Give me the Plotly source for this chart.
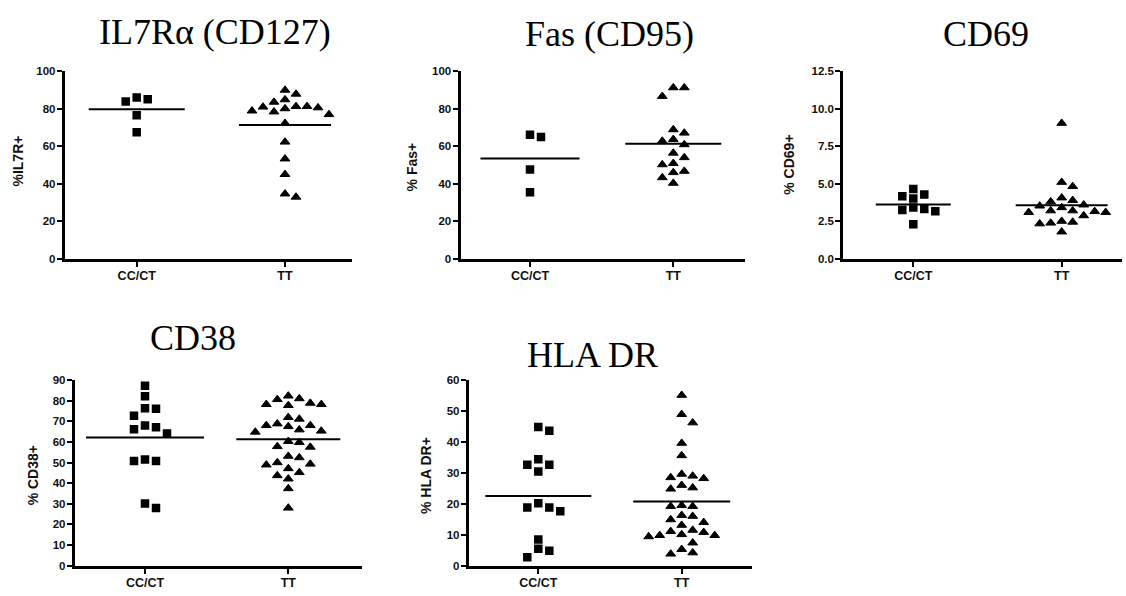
import numpy as np
import plotly.graph_objects as go

W, H = 1126, 596

categories = ["CC/CT", "TT"]

titles = ["IL7Rα (CD127)", "Fas (CD95)", "CD69", "CD38", "HLA DR"]
y_titles = ["%IL7R+", "% Fas+", "% CD69+", "% CD38+", "% HLA DR+"]

il7r_cc = [86.0, 83.9, 85.1, 76.5, 67.5]
il7r_tt = [81.0, 80.6, 83.6, 78.9, 87.9, 84.9, 90.0, 78.4, 80.1, 77.0, 81.3, 81.3,
           72.3, 62.3, 53.3, 45.0, 32.9, 34.6]

fas_cc = [64.9, 66.1, 47.6, 35.5]
fas_tt = [91.3, 91.3, 86.7, 67.1, 68.9, 62.8, 60.9, 63.7, 54.0, 56.4, 50.2, 50.9,
          46.0, 46.7, 43.3, 40.3]

cd69_cc = [3.42, 4.28, 3.24, 4.02, 3.16, 4.17, 3.31, 4.65, 2.29]
cd69_tt = [9.04, 5.10, 4.82, 3.89, 3.59, 3.80, 4.06, 3.52, 3.20, 3.20, 3.09, 2.87,
           3.09, 3.15, 3.41, 2.50, 2.33, 2.38, 2.44, 1.79]

cd38_cc = [87.2, 82.1, 76.1, 76.3, 72.7, 67.1, 67.9, 66.1, 64.1, 50.7, 50.7, 51.5,
           28.0, 30.2]
cd38_tt = [81.0, 78.8, 78.2, 77.7, 78.2, 80.6, 82.3, 71.1, 71.9, 68.0, 67.5, 65.3,
           64.8, 65.9, 68.0, 68.8, 59.8, 57.5, 57.8, 60.3, 53.1, 50.0, 49.3, 52.4,
           48.9, 47.1, 45.2, 42.1, 43.7, 37.4, 28.0]

hla_cc = [44.8, 43.6, 32.6, 32.6, 34.4, 30.4, 18.8, 17.6, 18.8, 20.2, 8.5, 5.5,
          4.8, 2.7]
hla_tt = [55.1, 48.9, 46.2, 39.6, 35.6, 29.6, 28.5, 28.2, 29.0, 26.0, 24.8, 25.2,
          19.2, 19.2, 19.5, 16.3, 16.0, 14.9, 13.1, 14.0, 11.1, 11.5, 10.1, 9.8,
          9.4, 9.8, 10.8, 7.4, 5.3, 3.8, 4.2]

y_max = [100, 100, 12.5, 90, 60]
y_dtick = [20, 20, 2.5, 10, 10]
y_fmt = ["d", "d", ".1f", "d", "d"]

groups = [(il7r_cc, il7r_tt), (fas_cc, fas_tt), (cd69_cc, cd69_tt),
          (cd38_cc, cd38_tt), (hla_cc, hla_tt)]

# ---- layout geometry (pixels) ----
# (y-axis x, x-axis end, top, bottom, category centre 0, category centre 1)
boxes = [
    (63.3, 351.7, 66.7, 259.3, 136.7, 285.0),
    (459.0, 745.0, 66.7, 259.3, 530.0, 673.3),
    (841.7, 1122.0, 66.7, 259.3, 913.3, 1061.7),
    (73.3, 361.7, 381.7, 572.7, 145.0, 288.3),
    (467.3, 751.7, 381.7, 572.7, 538.3, 681.7),
]
title_pos = [(215, 27), (609, 28.5), (986, 28.5), (193, 339), (592, 356)]
ytitle_pos = [(17.7, 158), (411.7, 164), (789, 162), (33, 479), (426.7, 479)]
mean_hw = [(48, 46), (49.5, 48), (37.5, 46), (59, 52), (53, 48.5)]
symbols = ["square", "triangle-up"]
msize = [8.5, 8.5]
mline = [0, 1]
LW = 3  # axis line width (plotly draws it half outside the plot area)


def swarm(values, xppu, yppu, dx=11.0, dy=9.0, step=5.5):
    vals = np.asarray(values, dtype=float)
    order = np.argsort(-vals, kind="stable")
    placed = []
    offs = np.zeros(len(vals))
    cands = [0]
    for m in range(1, 60):
        cands += [m, -m]
    for i in order:
        ypx = vals[i] * yppu
        xo = 0.0
        for m in cands:
            xo = m * step
            if all(abs(xo - px) >= dx or abs(ypx - py) >= dy for px, py in placed):
                break
        placed.append((xo, ypx))
        offs[i] = xo / xppu
    return offs


fig = go.Figure()
annotations = []
for i, (box, grp) in enumerate(zip(boxes, groups)):
    x0, x1, yt, yb, c0, c1 = box
    x0p = x0 + LW / 2
    ybp = yb - LW / 2
    n = "" if i == 0 else str(i + 1)
    xppu = c1 - c0
    yppu = (ybp - yt) / y_max[i]
    xmin = -(c0 - x0p) / xppu
    xmax = 1 + (x1 - c1) / xppu
    for g, vals in enumerate(grp):
        offs = swarm(vals, xppu, yppu)
        fig.add_trace(go.Scatter(
            x=g + offs, y=vals, mode="markers",
            marker=dict(symbol=symbols[g], size=msize[g], color="black",
                        line=dict(color="black", width=mline[g])),
            xaxis="x" + n, yaxis="y" + n, hoverinfo="skip"))
        m = float(np.mean(vals))
        hw = mean_hw[i][g] / xppu
        fig.add_trace(go.Scatter(
            x=[g - hw, g + hw], y=[m, m], mode="lines",
            line=dict(color="black", width=2),
            xaxis="x" + n, yaxis="y" + n, hoverinfo="skip"))
    fig.layout["xaxis" + n] = dict(
        domain=[x0p / W, x1 / W], range=[xmin, xmax], anchor="y" + n,
        tickvals=[0, 1], ticktext=categories, showgrid=False, zeroline=False,
        showline=True, linewidth=LW, linecolor="black",
        ticks="outside", ticklen=5, tickwidth=2, tickcolor="black",
        ticklabelstandoff=-2,
        tickfont=dict(family="Liberation Sans", size=12.5, color="#111", weight="bold"),
        fixedrange=True)
    fig.layout["yaxis" + n] = dict(
        domain=[1 - ybp / H, 1 - yt / H], range=[0, y_max[i]], anchor="x" + n,
        tickmode="linear", tick0=0, dtick=y_dtick[i], tickformat=y_fmt[i],
        showgrid=False, zeroline=False,
        showline=True, linewidth=LW, linecolor="black",
        ticks="outside", ticklen=5, tickwidth=2, tickcolor="black",
        ticklabelstandoff=-1,
        tickfont=dict(family="Liberation Sans", size=11.5, color="#111", weight="bold"),
        fixedrange=True)
    tx, ty = title_pos[i]
    annotations.append(dict(
        text=titles[i], x=tx / W, y=1 - ty / H, xref="paper", yref="paper",
        xanchor="center", yanchor="middle", showarrow=False,
        font=dict(family="Liberation Serif", size=36, color="black")))
    ax, ay = ytitle_pos[i]
    annotations.append(dict(
        text=y_titles[i], x=ax / W, y=1 - ay / H, xref="paper", yref="paper",
        xanchor="center", yanchor="middle", showarrow=False, textangle=-90,
        font=dict(family="Liberation Sans", size=14, color="#111", weight="bold")))

fig.update_layout(
    width=W, height=H, margin=dict(l=0, r=0, t=0, b=0),
    paper_bgcolor="white", plot_bgcolor="white", showlegend=False,
    hovermode=False, annotations=annotations)

fig.write_html("out.html",
               config={"displayModeBar": False, "staticPlot": True},
               post_script="document.body.style.margin='0px';"
                           "document.body.style.overflow='hidden';")
